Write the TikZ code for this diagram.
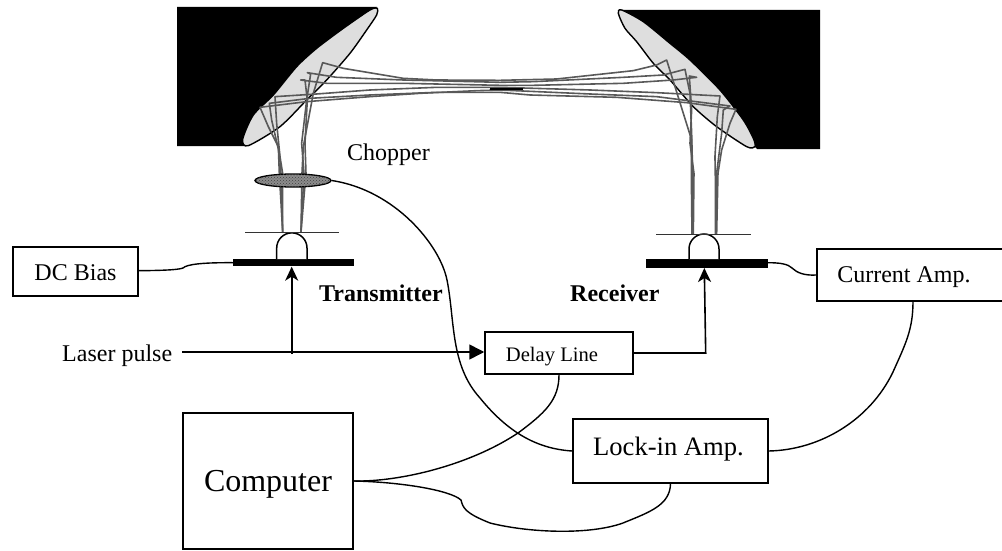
\documentclass[tikz,border=0pt]{standalone}
\usepackage{fontspec}
\setmainfont{Liberation Serif}
\usetikzlibrary{arrows.meta,patterns,shapes.geometric}
\tikzset{
  box/.style={draw=black,line width=1.5pt,fill=white,inner sep=0pt,rectangle},
  wire/.style={draw=black,line width=1.4pt},
  ray/.style={draw=black!65,line width=1.6pt,line join=round},
  lbl/.style={inner sep=0pt,anchor=base west},
  mirror/.style={draw=black,line width=1.4pt,fill=black!13},
  bar/.style={fill=black,draw=none,rectangle,inner sep=0pt},
  win/.style={draw=black!80,line width=1.1pt},
  dome/.style={draw=black,line width=1.5pt,fill=white},
  arrowline/.style={draw=black,line width=1.6pt},
  fs/.style={font=\fontsize{#1}{#1}\selectfont},
  basein/.style={text depth=0pt,text height=#1}
}
\begin{document}
\begin{tikzpicture}[x=1pt,y=-1pt]
\useasboundingbox (0,0) rectangle (1002,551);
% mounts
\fill[black] (177,7) -- (377,7) -- (245,146) -- (177,146) -- cycle;
\fill[black] (622,10) -- (820,10) -- (820,149) -- (757,149) -- cycle;
% left mirror and rays, in 3x crop units
\begin{scope}[shift={(170,0)},x=0.3333pt,y=-0.3333pt]
\draw[mirror] plot[smooth cycle,tension=0.45] coordinates {(622,25) (600,30) (520,85) (440,145) (380,200) (310,285) (250,345) (218,418) (235,437) (330,380) (410,300) (470,240) (540,160) (590,90) (620,45)};
\draw[ray] (338,696)--(328,520)--(325,440)--(295,380)--(270,322)--(410,305)--(600,290)--(750,280)--(920,272)--(990,270);
\draw[ray] (338,696)--(338,520)--(330,470)--(320,370)--(315,290)--(440,282)--(600,270)--(800,262)--(990,262);
\draw[ray] (338,696)--(333,520)--(328,460)--(305,360)--(298,310)--(420,295)--(600,285)--(800,277)--(990,277);
\draw[ray] (393,696)--(402,520)--(395,430)--(410,300)--(422,222)--(412,218)--(500,232)--(700,240)--(990,247);
\draw[ray] (393,696)--(408,520)--(405,430)--(412,300)--(405,240)--(392,240)--(470,250)--(700,250)--(990,256);
\draw[ray] (393,696)--(396,520)--(400,440)--(430,280)--(458,188)--(520,205)--(700,235)--(800,240)--(990,241);
\end{scope}
% right mirror and rays
\begin{scope}[shift={(490,0)},x=0.3333pt,y=-0.3333pt]
\draw[mirror] plot[smooth cycle,tension=0.45] coordinates {(395,30) (385,40) (405,85) (440,125) (490,190) (540,240) (610,320) (680,380) (770,440) (795,440) (790,415) (760,360) (690,270) (600,180) (540,130) (460,65)};
\draw[ray] (30,241)--(200,237)--(430,212)--(500,195)--(530,180)--(555,260)--(580,340)--(605,420)--(604,520)--(606,702);
\draw[ray] (30,247)--(130,245)--(400,232)--(520,225)--(585,208)--(600,280)--(605,400)--(608,520)--(608,702);
\draw[ray] (30,256)--(130,256)--(400,250)--(550,240)--(620,232)--(598,228)--(605,330)--(600,430)--(612,520)--(610,702);
\draw[ray] (30,262)--(300,270)--(500,278)--(690,288)--(682,350)--(675,470)--(676,530)--(676,702);
\draw[ray] (30,270)--(300,282)--(500,290)--(720,318)--(700,330)--(695,400)--(680,520)--(678,702);
\draw[ray] (30,277)--(120,285)--(380,292)--(590,308)--(738,328)--(720,370)--(695,450)--(684,520)--(680,702);
\end{scope}
\fill[black] (490,88) rectangle (523,90.2);
% chopper
\node[ellipse,draw=black,line width=1.3pt,fill=black!45,minimum width=76pt,minimum height=13pt,inner sep=0pt,
  postaction={pattern=crosshatch dots,pattern color=black!75}] (chop) at (293,180.5) {};
% emitters
\node[bar,minimum width=121pt,minimum height=7.5pt] (tbar) at (293.5,262.7) {};
\node[bar,minimum width=121.7pt,minimum height=8.7pt] (rbar) at (706.8,263.3) {};
\draw[dome] (276.7,259) -- (276.7,248) arc[start angle=180,end angle=0,radius=15.15pt] -- (307,259);
\draw[dome] (689,259) -- (689,249) arc[start angle=180,end angle=0,radius=15pt] -- (719,259);
\coordinate (tw1) at (245,232.7); \coordinate (tw2) at (339.3,232.7);
\coordinate (rw1) at (656,234.3); \coordinate (rw2) at (750.7,234.3);
\draw[win] (tw1) -- (tw2);
\draw[win] (rw1) -- (rw2);
% boxes
\node[box,minimum width=125pt,minimum height=49pt,fs=24,basein=17pt] (dc) at (75.5,271.5) {DC Bias};
\node[box,minimum width=192pt,minimum height=52pt,fs=24,basein=14pt] (cur) at (913,275) {\hspace*{-18pt}Current Amp.};
\node[box,minimum width=148pt,minimum height=42pt,fs=20.6,basein=16pt] (delay) at (559,353) {\hspace*{-14pt}Delay Line};
\node[box,minimum width=195pt,minimum height=64pt,fs=26.6,basein=8pt] (lock) at (670.5,451) {\hspace*{-4pt}Lock-in Amp.};
\node[box,minimum width=170pt,minimum height=136pt,fs=32,basein=20pt] (comp) at (268,481) {Computer};
% labels
\node[lbl,fs=24] (chl) at (347,160) {Chopper};
\node[lbl,fs=24] (las) at (62,361) {Laser pulse};
\node[lbl,font=\fontsize{24}{24}\selectfont\bfseries] (tx) at (319,301) {Transmitter};
\node[lbl,font=\fontsize{24}{24}\selectfont\bfseries] (rx) at (570,301) {Receiver};
% wires
\draw[wire] (dc.east|-138,270.7) .. controls (160,270.5) and (178,270) .. (183,268) .. controls (187,264) and (205,262.5) .. (tbar.west);
\draw[wire] (rbar.east|-767.7,262.7) .. controls (780,262.7) and (788,264) .. (792,268) .. controls (797,273) and (805,275.7) .. (cur.west);
\draw[wire] (chop.east) .. controls (395,190) and (440,245) .. (447,280) .. controls (455,320) and (450,365) .. (480,398) .. controls (510,435) and (540,449) .. (lock.west);
\draw[wire] (delay.south) .. controls (559,400) and (545,413) .. (518,433) .. controls (470,465) and (400,482) .. (comp.east);
\draw[wire] (comp.east) .. controls (400,482) and (450,490) .. (461,500) .. controls (463,508) and (465,513) .. (490,523) .. controls (530,533) and (590,535) .. (623,523) .. controls (650,512) and (670,505) .. (lock.south);
\draw[wire] (cur.south) .. controls (913,330) and (905,345) .. (893,372) .. controls (870,420) and (820,450) .. (lock.east);
% beam lines
\coordinate (lstart) at (182,352);
\coordinate (branch) at (291.7,354);
\draw[arrowline,-{Triangle[length=15pt,width=15pt]}] (lstart) -- (delay.west|-lstart);
\draw[arrowline,-{Stealth[length=14pt,width=13pt,inset=4pt]}] (branch) -- (tbar.south-|branch);
\coordinate (rcorner) at (705.7,353);
\draw[arrowline,-{Stealth[length=14pt,width=13pt,inset=4pt]}] (delay.east|-rcorner) -- (rcorner) -- (704.3,268);
\end{tikzpicture}
\end{document}
